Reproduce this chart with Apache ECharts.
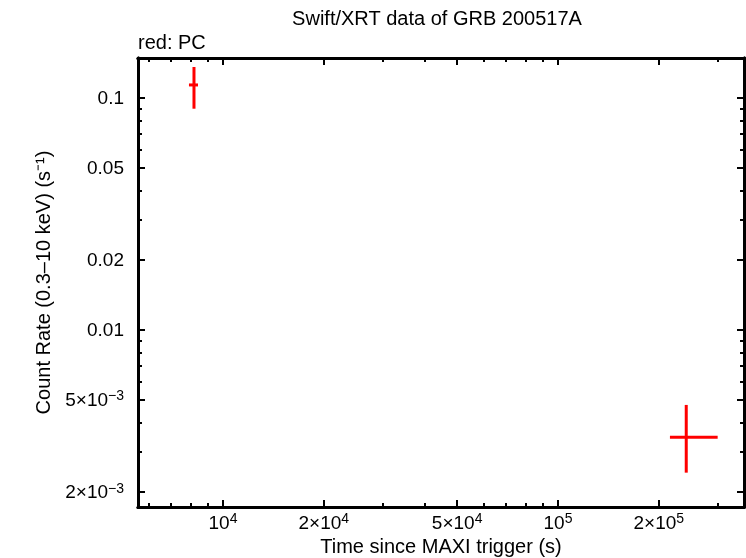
<!DOCTYPE html>
<html><head><meta charset="utf-8">
<script src="https://cdn.jsdelivr.net/npm/echarts@6/dist/echarts.min.js"></script>
<style>html,body{margin:0;padding:0;background:#fff}#c{width:746px;height:558px}</style>
</head><body><div id="c"></div>
<script>
// ---- data ----
var times     = [8193, 241500];
var timeLow   = [7915, 215900];
var timeHigh  = [8423, 299700];
var rates     = [0.1138, 0.003447];
var rateLow   = [0.0899, 0.002427];
var rateHigh  = [0.136, 0.004753];

// ---- ticks (labels use rich text: {b|base}{s|superscript}) ----
var xMajorTicks  = [1e4, 2e4, 5e4, 1e5, 2e5];
var xMajorLabels = ['{b|10}{s|4}', '{b|2\u00d710}{s|4}', '{b|5\u00d710}{s|4}', '{b|10}{s|5}', '{b|2\u00d710}{s|5}'];
var xMinorTicks  = [6000, 7000, 8000, 9000, 30000, 40000, 60000, 70000, 80000, 90000, 300000];
var yMajorTicks  = [0.002, 0.005, 0.01, 0.02, 0.05, 0.1];
var yMajorLabels = ['{b|2\u00d710}{s|\u22123}', '{b|5\u00d710}{s|\u22123}', '{b|0.01}', '{b|0.02}', '{b|0.05}', '{b|0.1}'];
var yMinorTicks  = [0.003, 0.004, 0.006, 0.007, 0.008, 0.009, 0.03, 0.04, 0.06, 0.07, 0.08, 0.09];

var X_MIN = 5576, X_MAX = 359200, Y_MIN = 0.001726, Y_MAX = 0.1487;
var FONT = "'Liberation Sans', Arial, Helvetica, sans-serif";

function labelFor(v, ticks, labels) {
  for (var i = 0; i < ticks.length; i++) {
    if (Math.abs(v - ticks[i]) / ticks[i] < 1e-6) return labels[i];
  }
  return '';
}

var RICH = {
  b: { fontSize: 19, fontFamily: FONT, color: '#000', lineHeight: 21, verticalAlign: 'bottom' },
  s: { fontSize: 14, fontFamily: FONT, color: '#000', lineHeight: 14, verticalAlign: 'top' }
};

function axisCfg(kind, pos, ticks, len, labels, name) {
  var isX = kind === 'x';
  var cfg = {
    type: 'log', logBase: 10,
    min: isX ? X_MIN : Y_MIN, max: isX ? X_MAX : Y_MAX,
    position: pos,
    axisLine: { show: true, onZero: false, lineStyle: { color: '#000', width: 3 } },
    axisTick: { show: true, inside: true, length: len, customValues: ticks,
                lineStyle: { color: '#000', width: 2 } },
    axisLabel: { show: false },
    splitLine: { show: false },
    minorTick: { show: false },
    minorSplitLine: { show: false }
  };
  if (labels) {
    var majors = isX ? xMajorTicks : yMajorTicks;
    cfg.axisLabel = {
      show: true, customValues: majors, color: '#000', fontFamily: FONT, fontSize: 19,
      margin: isX ? 5 : 14,
      rich: RICH,
      formatter: function (v) { return labelFor(v, majors, labels); }
    };
  }
  if (name) {
    cfg.name = name;
    cfg.nameLocation = 'middle';
    cfg.nameTextStyle = { color: '#000', fontFamily: FONT, fontSize: 20 };
    cfg.nameGap = isX ? 30 : 83;
  }
  return cfg;
}

var chart = echarts.init(document.getElementById('c'), null, { renderer: 'canvas' });

var seriesData = times.map(function (t, i) {
  return [t, timeLow[i], timeHigh[i], rates[i], rateLow[i], rateHigh[i]];
});

chart.setOption({
  animation: false,
  backgroundColor: '#fff',
  title: [
    { text: 'Swift/XRT data of GRB 200517A', left: 437, top: 9, textAlign: 'center', padding: 0,
      textStyle: { color: '#000', fontFamily: FONT, fontSize: 20, fontWeight: 'normal' } },
    { text: 'red: PC', left: 138, top: 33, padding: 0,
      textStyle: { color: '#000', fontFamily: FONT, fontSize: 20, fontWeight: 'normal' } }
  ],
  grid: { left: 138, top: 58, width: 606, height: 449, containLabel: false, outerBoundsMode: 'none' },
  xAxis: [
    axisCfg('x', 'bottom', xMajorTicks, 7, xMajorLabels, 'Time since MAXI trigger (s)'),
    axisCfg('x', 'bottom', xMinorTicks, 4, null, null),
    axisCfg('x', 'top', xMajorTicks, 7, null, null),
    axisCfg('x', 'top', xMinorTicks, 4, null, null)
  ],
  yAxis: [
    axisCfg('y', 'left', yMajorTicks, 7, yMajorLabels, 'Count Rate (0.3\u201310 keV) (s\u207b\u00b9)'),
    axisCfg('y', 'left', yMinorTicks, 4, null, null),
    axisCfg('y', 'right', yMajorTicks, 7, null, null),
    axisCfg('y', 'right', yMinorTicks, 4, null, null)
  ],
  series: [{
    type: 'custom',
    xAxisIndex: 0, yAxisIndex: 0,
    encode: { x: 0, y: 3 },
    data: seriesData,
    renderItem: function (params, api) {
      var l = api.coord([api.value(1), api.value(3)]);
      var h = api.coord([api.value(2), api.value(3)]);
      var lo = api.coord([api.value(0), api.value(4)]);
      var hi = api.coord([api.value(0), api.value(5)]);
      var st = { stroke: '#ff0000', lineWidth: 3 };
      return { type: 'group', children: [
        { type: 'line', shape: { x1: l[0], y1: l[1], x2: h[0], y2: h[1] }, style: st },
        { type: 'line', shape: { x1: lo[0], y1: lo[1], x2: hi[0], y2: hi[1] }, style: st }
      ] };
    }
  }]
});
</script></body></html>
